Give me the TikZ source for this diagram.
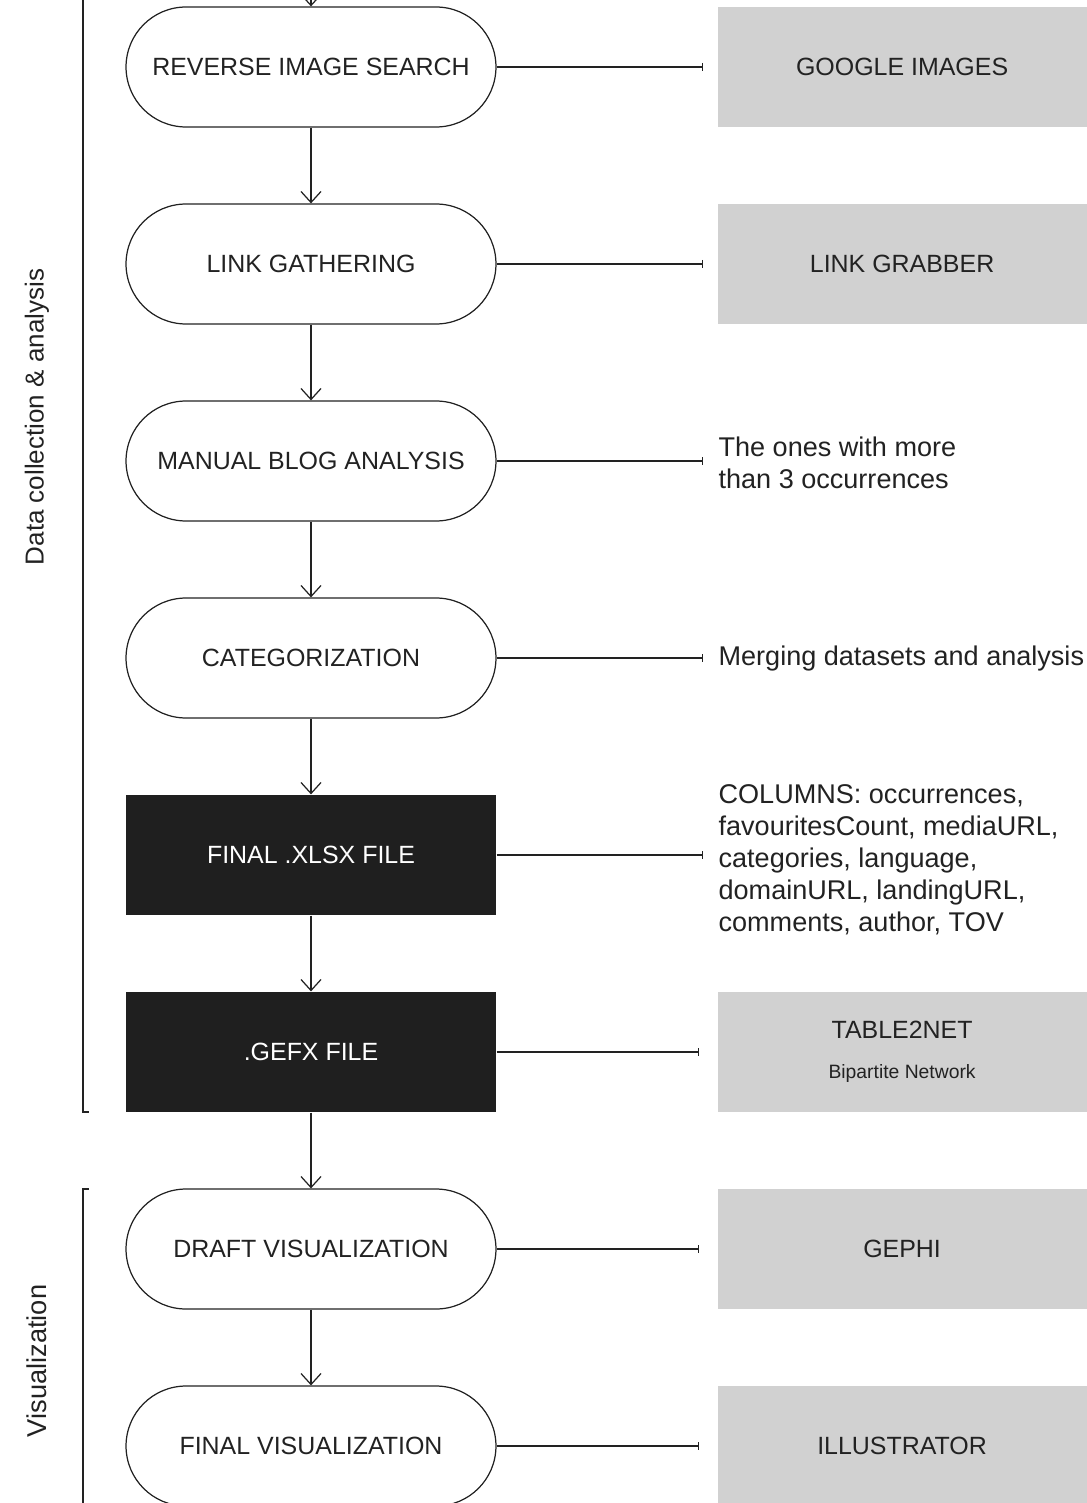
\documentclass[tikz,border=0pt]{standalone}
\usepackage{fontspec}
\setmainfont{Liberation Sans}
\usetikzlibrary{arrows.meta}
\definecolor{boxgray}{HTML}{D1D1D1}
\definecolor{boxblack}{HTML}{1F1F1F}
\definecolor{inkgray}{HTML}{222222}
\begin{document}
\begin{tikzpicture}[x=0.02cm,y=-0.02cm,line width=0.7pt,color=inkgray,
  stadium/.style={draw,rounded corners=1.2cm,minimum width=7.4cm,minimum height=2.4cm,font=\fontsize{14.2}{18}\selectfont},
  blackbox/.style={fill=boxblack,text=white,minimum width=7.4cm,minimum height=2.4cm,font=\fontsize{14.2}{18}\selectfont},
  toolbox/.style={fill=boxgray,anchor=west,minimum width=7.38cm,minimum height=2.4cm,font=\fontsize{14.2}{18}\selectfont,align=center},
  note/.style={anchor=west,inner sep=0pt,align=left,font=\fontsize{15.4}{18.2}\selectfont},
  flow/.style={-{Straight Barb[length=2.2mm,width=4mm]}},
  link/.style={-{Bar[width=1.6mm]}}]
\useasboundingbox (0,0) rectangle (1086,1503);
% main column
\coordinate (top) at (311,-5);
\node[stadium] (search) at (311,67) {REVERSE IMAGE SEARCH};
\node[stadium] (links) at (311,264) {LINK GATHERING};
\node[stadium] (manual) at (311,461) {MANUAL BLOG ANALYSIS};
\node[stadium] (categ) at (311,658) {CATEGORIZATION};
\node[blackbox] (xlsx) at (311,855) {FINAL .XLSX FILE};
\node[blackbox] (gefx) at (311,1052) {.GEFX FILE};
\node[stadium] (draft) at (311,1249) {DRAFT VISUALIZATION};
\node[stadium] (final) at (311,1446) {FINAL VISUALIZATION};
\draw[flow] (top) -- (search);
\draw[flow] (search) -- (links);
\draw[flow] (links) -- (manual);
\draw[flow] (manual) -- (categ);
\draw[flow] (categ) -- (xlsx);
\draw[flow] (xlsx) -- (gefx);
\draw[flow] (gefx) -- (draft);
\draw[flow] (draft) -- (final);
% tools and notes
\node[toolbox] (google) at (717,67) {GOOGLE IMAGES};
\node[toolbox] (grabber) at (717,264) {LINK GRABBER};
\node[note] (ones) at (718,463) {The ones with more\\than 3 occurrences};
\node[note] (merging) at (718,659) {Merging datasets and analysis};
\node[note] (columns) at (718,860) {COLUMNS: occurrences,\\favouritesCount, mediaURL,\\categories, language,\\domainURL, landingURL,\\comments, author, TOV};
\node[toolbox] (table) at (717,1052) {TABLE2NET\\[5pt]{\fontsize{11}{12}\selectfont Bipartite Network}};
\node[toolbox] (gephi) at (717,1249) {GEPHI};
\node[toolbox] (illus) at (717,1446) {ILLUSTRATOR};
\coordinate (e1) at (703,67);
\coordinate (e2) at (703,264);
\coordinate (e3) at (703,461);
\coordinate (e4) at (703,658);
\coordinate (e5) at (703,855);
\coordinate (e6) at (699,1052);
\coordinate (e7) at (699,1249);
\coordinate (e8) at (699,1446);
\draw[link] (search) -- (e1);
\draw[link] (links) -- (e2);
\draw[link] (manual) -- (e3);
\draw[link] (categ) -- (e4);
\draw[link] (xlsx) -- (e5);
\draw[link] (gefx) -- (e6);
\draw[link] (draft) -- (e7);
\draw[link] (final) -- (e8);
% brackets
\draw (83,0) -- (83,1112) -- (89,1112);
\draw (89,1189) -- (83,1189) -- (83,1503);
\node[rotate=90,font=\fontsize{14.8}{18}\selectfont] (datalbl) at (37,417) {Data collection \& analysis};
\node[rotate=90,font=\fontsize{15.5}{18}\selectfont] (vislbl) at (37,1361) {Visualization};
\end{tikzpicture}
\end{document}
